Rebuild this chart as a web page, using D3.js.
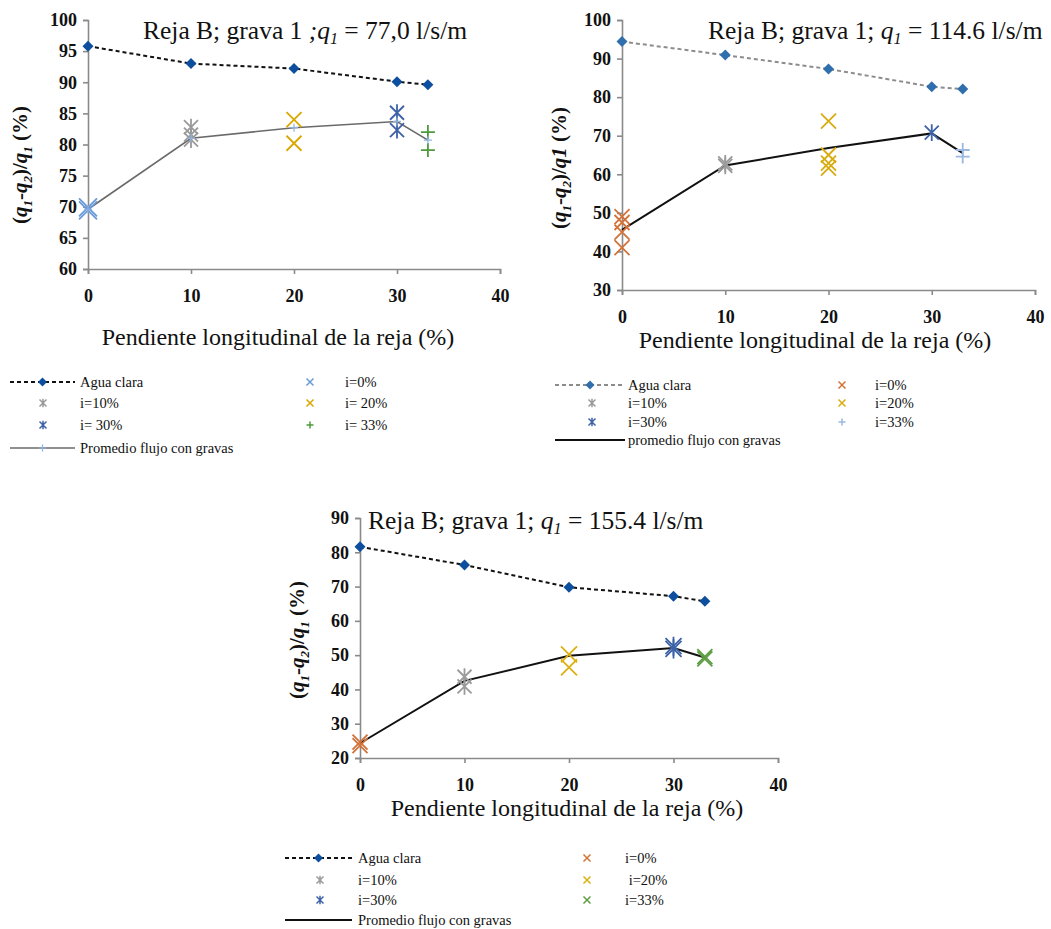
<!DOCTYPE html>
<html lang="es">
  <head>
    <meta charset="utf-8">
    <title>Reja B - grava 1</title>
    <script src="https://d3js.org/d3.v7.min.js"></script>
    <style>
      body { margin: 0; background: #fff; }
      svg text { font-family: "Liberation Serif", "Times New Roman", serif; fill: #111; }
    </style>
  </head>
  <body>
    <div id="chart"></div>
    <script type="text/javascript">
      // slope of the screen (x values), shared by the three panels
      var pendiente = [0, 10, 20, 30, 33];
      var xTicks = [0, 10, 20, 30, 40];

      // panel 1: q1 = 77,0 l/s/m
      var agua1 = [95.8, 93.0, 92.2, 90.1, 89.6];
      var prom1 = [69.6, 81.0, 82.7, 83.7, 80.7];
      var grava1 = [[69.4, 69.9], [82.8, 81.6, 80.8], [84.0, 80.2], [85.1, 82.3], [82.0, 79.1]];
      var yTicks1 = [60, 65, 70, 75, 80, 85, 90, 95, 100];

      // panel 2: q1 = 114.6 l/s/m
      var agua2 = [94.4, 90.9, 87.3, 82.7, 82.1];
      var prom2 = [45.6, 62.3, 66.8, 70.6, 65.5];
      var grava2 = [[49.0, 47.5, 45.0, 41.0], [62.8, 62.2], [73.8, 65.0, 62.9, 61.6], [70.8], [66.3, 64.6]];
      var yTicks2 = [30, 40, 50, 60, 70, 80, 90, 100];

      // panel 3: q1 = 155.4 l/s/m
      var agua3 = [81.6, 76.3, 69.8, 67.2, 65.7];
      var prom3 = [24.3, 42.5, 49.8, 52.1, 49.3];
      var grava3 = [[24.6, 23.6], [43.7, 40.9], [50.2, 46.4], [52.6, 51.8], [49.6, 48.9]];
      var yTicks3 = [20, 30, 40, 50, 60, 70, 80, 90];

      var labels1 = ["Agua clara", "i=0%", "i=10%", "i= 20%", "i= 30%", "i= 33%", "Promedio flujo con gravas"];
      var labels2 = ["Agua clara", "i=0%", "i=10%", "i=20%", "i=30%", "i=33%", "promedio flujo con gravas"];
      var labels3 = ["Agua clara", "i=0%", "i=10%", " i=20%", "i=30%", "i=33%", "Promedio flujo con gravas"];

      var serif = '"Liberation Serif", "Times New Roman", serif';

      var svg = d3.select('#chart')
        .append('svg')
        .attr('width', 1051)
        .attr('height', 929);

      // marker shapes as path strings, s = half size
      var markerPath = function(type, s) {
        if (type == "x") {
          return "M" + (-s) + "," + (-s) + "L" + s + "," + s + "M" + (-s) + "," + s + "L" + s + "," + (-s);
        }
        if (type == "star") {
          return "M" + (-s) + "," + (-s) + "L" + s + "," + s + "M" + (-s) + "," + s + "L" + s + "," + (-s) +
            "M0," + (-s * 1.2) + "L0," + (s * 1.2);
        }
        if (type == "plus") {
          return "M" + (-s) + ",0L" + s + ",0M0," + (-s) + "L0," + s;
        }
        // diamond
        return "M0," + (-s) + "L" + s + ",0L0," + s + "L" + (-s) + ",0Z";
      };

      var drawPanel = function(p) {
        var g = svg.append('g');

        var xScale = d3.scaleLinear().domain([0, 40]).range(p.xRange);
        var yScale = d3.scaleLinear().domain(p.yDomain).range(p.yRange);

        // axes
        var xAxis = d3.axisBottom(xScale).tickValues(xTicks).tickSize(5).tickPadding(15);
        var gx = g.append('g')
          .attr('transform', 'translate(0,' + p.yRange[0] + ')')
          .call(xAxis);
        var yAxis = d3.axisLeft(yScale).tickValues(p.yTicks).tickSize(5).tickPadding(6);
        var gy = g.append('g')
          .attr('transform', 'translate(' + p.xRange[0] + ',0)')
          .call(yAxis);
        [gx, gy].forEach(function(a) {
          a.attr('font-family', null);
          a.selectAll('path, line').attr('stroke', '#8a8a8a').attr('stroke-width', 1.6);
          a.selectAll('text')
            .style('font-family', serif)
            .style('font-size', '18px')
            .style('font-weight', 'bold')
            .attr('fill', '#222');
        });

        // agua clara: dashed line with diamonds
        var pts = pendiente.map(function(d, i) { return [d, p.agua[i]]; });
        var line = d3.line()
          .x(function(d) { return xScale(d[0]); })
          .y(function(d) { return yScale(d[1]); });
        g.append('path')
          .attr('d', line(pts))
          .attr('fill', 'none')
          .attr('stroke', p.aguaLine)
          .attr('stroke-width', 2)
          .attr('stroke-dasharray', '4,3');
        g.selectAll('.agua')
          .data(pts)
          .enter()
          .append('path')
            .attr('transform', function(d) { return 'translate(' + xScale(d[0]) + ',' + yScale(d[1]) + ')'; })
            .attr('d', markerPath("diamond", 5.5))
            .attr('fill', p.aguaColor);

        // promedio flujo con gravas
        var ptsP = pendiente.map(function(d, i) { return [d, p.prom[i]]; });
        g.append('path')
          .attr('d', line(ptsP))
          .attr('fill', 'none')
          .attr('stroke', p.promColor)
          .attr('stroke-width', p.promWidth);

        // individual runs for each slope
        p.grava.forEach(function(vals, i) {
          g.selectAll('.run' + i)
            .data(vals)
            .enter()
            .append('path')
              .attr('transform', function(v) { return 'translate(' + xScale(pendiente[i]) + ',' + yScale(v) + ')'; })
              .attr('d', markerPath(p.types[i], p.sizes[i]))
              .attr('fill', 'none')
              .attr('stroke', p.colors[i])
              .attr('stroke-width', 1.8);
        });

        if (p.promMarker) {
          g.selectAll('.promMark')
            .data(ptsP)
            .enter()
            .append('path')
              .attr('transform', function(d) { return 'translate(' + xScale(d[0]) + ',' + yScale(d[1]) + ')'; })
              .attr('d', markerPath("plus", 4))
              .attr('stroke', p.promMarker)
              .attr('stroke-width', 1.2);
        }

        // title
        var t = g.append('text')
          .attr('x', p.title[0])
          .attr('y', p.title[1])
          .style('font-family', serif)
          .style('font-size', '25.5px');
        t.append('tspan').text(p.titleText[0]);
        t.append('tspan').style('font-style', 'italic').text(p.titleText[1]);
        t.append('tspan').style('font-style', 'italic').style('font-size', '16px').attr('dy', 5).text('1');
        t.append('tspan').attr('dy', -5).text(p.titleText[2]);

        // x axis title
        g.append('text')
          .attr('x', p.xTitle[0])
          .attr('y', p.xTitle[1])
          .attr('text-anchor', 'middle')
          .style('font-family', serif)
          .style('font-size', '24px')
          .text('Pendiente longitudinal de la reja (%)');

        // y axis title
        var yt = g.append('text')
          .attr('transform', 'translate(' + p.yTitle[0] + ',' + p.yTitle[1] + ')rotate(-90)')
          .attr('text-anchor', 'middle')
          .style('font-family', serif)
          .style('font-size', '21px')
          .style('font-weight', 'bold');
        yt.append('tspan').text('(');
        yt.append('tspan').style('font-style', 'italic').text('q');
        yt.append('tspan').style('font-style', 'italic').style('font-size', '13px').attr('dy', 5).text('1');
        yt.append('tspan').attr('dy', -5).text('-');
        yt.append('tspan').style('font-style', 'italic').text('q');
        yt.append('tspan').style('font-style', 'italic').style('font-size', '13px').attr('dy', 5).text('2');
        yt.append('tspan').attr('dy', -5).text(')/');
        if (p.plainQ) {
          yt.append('tspan').style('font-style', 'italic').text('q1');
          yt.append('tspan').text(' (%)');
        } else {
          yt.append('tspan').style('font-style', 'italic').text('q');
          yt.append('tspan').style('font-style', 'italic').style('font-size', '13px').attr('dy', 5).text('1');
          yt.append('tspan').attr('dy', -5).text(p.yGap + '(%)');
        }

        // legend
        var L = p.legend;
        var lg = g.append('g');
        var legText = function(x, y, s) {
          lg.append('text')
            .attr('x', x)
            .attr('y', y + 5)
            .style('font-family', serif)
            .style('font-size', '14.5px')
            .style('white-space', 'pre')
            .text(s);
        };
        // row 1: agua clara
        lg.append('line')
          .attr('x1', L.lineX[0]).attr('x2', L.lineX[1])
          .attr('y1', L.rows[0]).attr('y2', L.rows[0])
          .attr('stroke', p.aguaLine).attr('stroke-width', 2).attr('stroke-dasharray', '4,3');
        lg.append('path')
          .attr('transform', 'translate(' + ((L.lineX[0] + L.lineX[1]) / 2) + ',' + L.rows[0] + ')')
          .attr('d', markerPath("diamond", 4.5))
          .attr('fill', p.aguaColor);
        legText(L.labelX, L.rows[0], p.labels[0]);
        // slope series: col 2 gets 0/20/33, col 1 gets 10/30
        var slots = [[L.col2[0], L.rows[0]], [L.col1, L.rows[1]], [L.col2[0], L.rows[1]],
                     [L.col1, L.rows[2]], [L.col2[0], L.rows[2]]];
        slots.forEach(function(s, i) {
          lg.append('path')
            .attr('transform', 'translate(' + s[0] + ',' + s[1] + ')')
            .attr('d', markerPath(p.types[i], 3.5))
            .attr('fill', 'none')
            .attr('stroke', p.colors[i])
            .attr('stroke-width', 1.5);
          var lx = s[0] == L.col1 ? L.labelX : L.col2[1];
          legText(lx, s[1], p.labels[i + 1]);
        });
        // row 4: promedio
        lg.append('line')
          .attr('x1', L.lineX[0]).attr('x2', L.lineX[1])
          .attr('y1', L.rows[3]).attr('y2', L.rows[3])
          .attr('stroke', p.promColor).attr('stroke-width', p.promWidth);
        if (p.promMarker) {
          lg.append('path')
            .attr('transform', 'translate(' + ((L.lineX[0] + L.lineX[1]) / 2) + ',' + L.rows[3] + ')')
            .attr('d', markerPath("plus", 3.5))
            .attr('stroke', p.promMarker)
            .attr('stroke-width', 1.2);
        }
        legText(L.labelX, L.rows[3], p.labels[6]);
      };

      drawPanel({
        xRange: [88, 500], yRange: [269, 20], yDomain: [60, 100], yTicks: yTicks1,
        agua: agua1, prom: prom1, grava: grava1,
        aguaLine: '#111', aguaColor: '#0d4f9e',
        promColor: '#6a6a6a', promWidth: 1.6, promMarker: '#8fb3e0',
        types: ["x", "star", "x", "star", "plus"],
        sizes: [9, 7, 7.5, 7, 7],
        colors: ['#6b9bd6', '#9a9a9a', '#d8a800', '#3d62a8', '#4e9a3c'],
        title: [143, 39], titleText: ['Reja B; grava 1 ', ';q', ' = 77,0 l/s/m'],
        xTitle: [278, 345], yTitle: [27, 165], yGap: '  ',
        labels: labels1,
        legend: { lineX: [10, 75], labelX: 80, col1: 43, col2: [310, 345], rows: [382, 403, 425, 448] }
      });

      drawPanel({
        xRange: [622, 1035], yRange: [290, 20], yDomain: [30, 100], yTicks: yTicks2,
        agua: agua2, prom: prom2, grava: grava2,
        aguaLine: '#8c8c8c', aguaColor: '#2f6fae',
        promColor: '#111', promWidth: 2, promMarker: null,
        types: ["x", "star", "x", "star", "plus"],
        sizes: [7.5, 7, 7.5, 7, 7],
        colors: ['#d2733a', '#9a9a9a', '#d8ac10', '#3d62a8', '#9ab8e0'],
        title: [708, 39], titleText: ['Reja B; grava 1; ', 'q', ' = 114.6 l/s/m'],
        xTitle: [815, 348], yTitle: [566, 168], plainQ: true,
        labels: labels2,
        legend: { lineX: [555, 625], labelX: 628, col1: 592, col2: [842, 875], rows: [385, 403, 422, 440] }
      });

      drawPanel({
        xRange: [360, 778], yRange: [758, 518], yDomain: [20, 90], yTicks: yTicks3,
        agua: agua3, prom: prom3, grava: grava3,
        aguaLine: '#111', aguaColor: '#0d4f9e',
        promColor: '#111', promWidth: 2, promMarker: null,
        types: ["x", "star", "x", "star", "x"],
        sizes: [7.5, 7, 8, 8, 7.5],
        colors: ['#d2733a', '#9a9a9a', '#dcb010', '#3d62a8', '#5e9e44'],
        title: [368, 529], titleText: ['Reja B; grava 1; ', 'q', ' = 155.4 l/s/m'],
        xTitle: [567, 816], yTitle: [304, 640], yGap: ' ',
        labels: labels3,
        legend: { lineX: [285, 352], labelX: 358, col1: 320, col2: [587, 625], rows: [858, 880, 900, 920] }
      });
    </script>
  </body>
</html>
